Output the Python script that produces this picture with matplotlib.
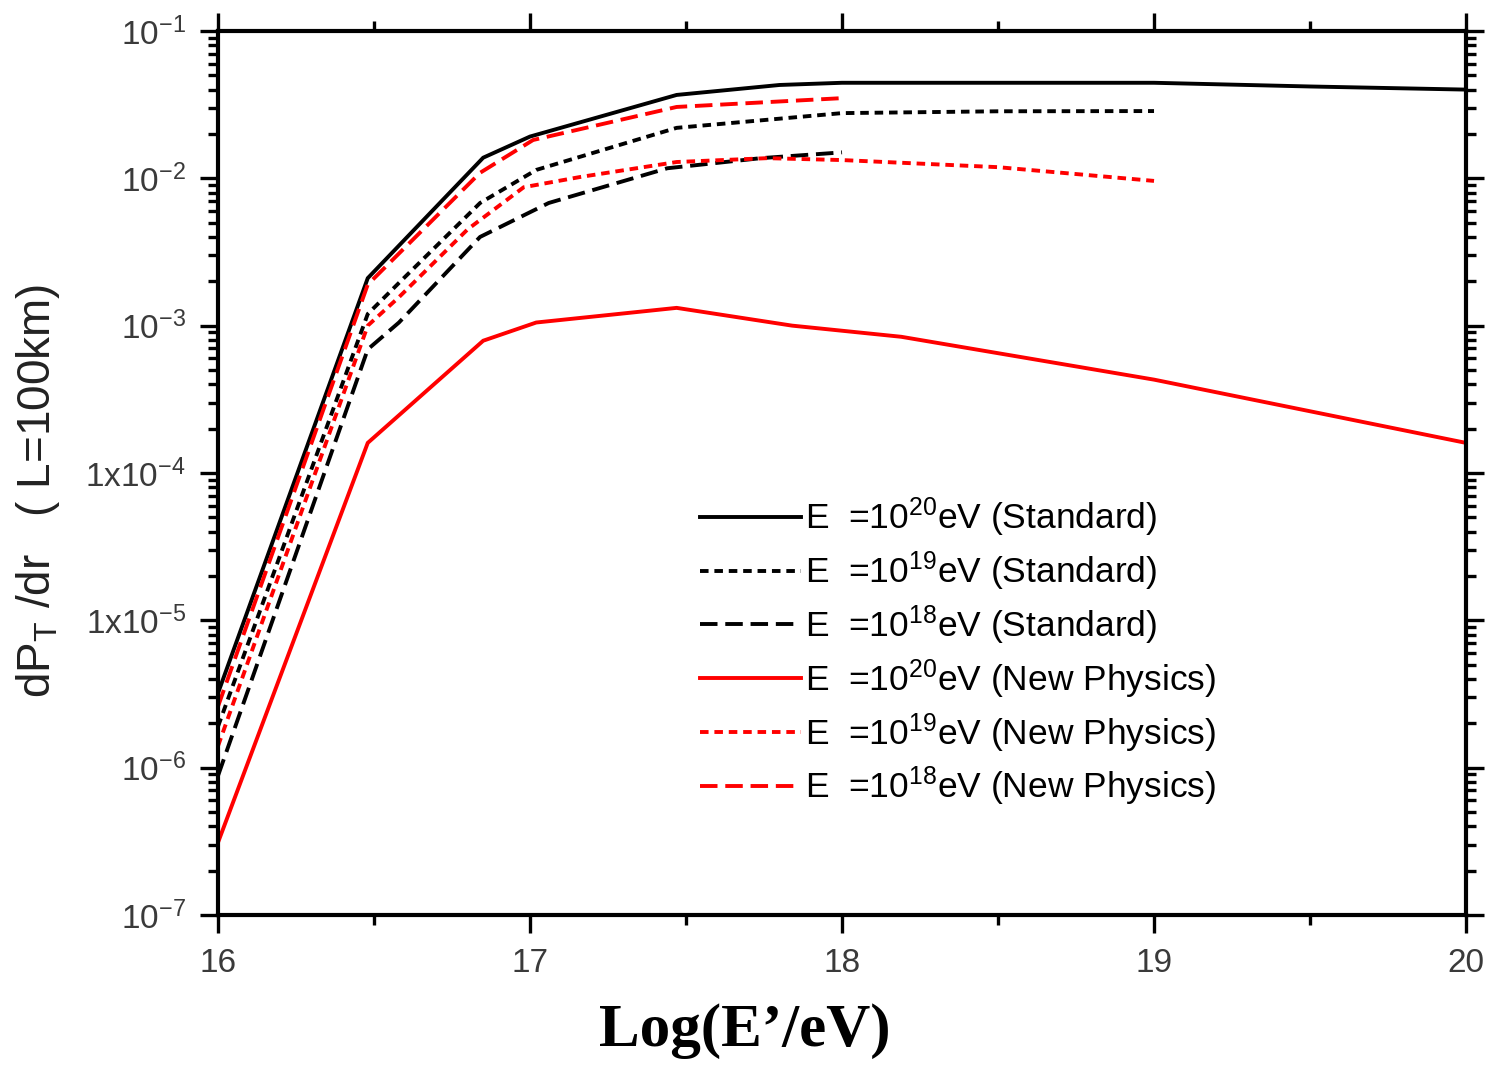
import numpy as np
import matplotlib
matplotlib.use("Agg")
import matplotlib.pyplot as plt
from matplotlib.ticker import FixedLocator, LogLocator, NullFormatter, MultipleLocator

plt.rcParams["font.family"] = ["Liberation Sans", "DejaVu Sans"]
plt.rcParams["mathtext.default"] = "regular"
plt.rcParams["axes.unicode_minus"] = False

# ── data (x = log10(E'/eV), y = dP_T/dr) ─────────────────────────────────────
x_20_std = [16.0, 16.48, 16.85, 17.0, 17.47, 17.8, 18.0, 19.0, 19.5, 20.0]
y_20_std = [3.2e-6, 2.1e-3, 1.38e-2, 1.92e-2, 3.68e-2, 4.3e-2, 4.45e-2, 4.45e-2, 4.2e-2, 4.0e-2]

x_19_std = [16.0, 16.48, 16.58, 16.84, 17.02, 17.47, 18.0, 18.5, 19.0]
y_19_std = [1.9e-6, 1.2e-3, 1.95e-3, 6.8e-3, 1.14e-2, 2.2e-2, 2.77e-2, 2.85e-2, 2.86e-2]

x_18_std = [16.0, 16.48, 16.58, 16.84, 17.06, 17.44, 17.74, 18.0]
y_18_std = [8.8e-7, 6.9e-4, 1.05e-3, 4.0e-3, 6.8e-3, 1.17e-2, 1.37e-2, 1.5e-2]

x_20_np = [16.0, 16.48, 16.85, 17.02, 17.25, 17.47, 17.84, 18.19, 19.0, 20.0]
y_20_np = [3.1e-7, 1.6e-4, 7.9e-4, 1.05e-3, 1.18e-3, 1.32e-3, 1.0e-3, 8.4e-4, 4.3e-4, 1.6e-4]

x_19_np = [16.0, 16.48, 16.58, 16.8, 16.98, 17.16, 17.47, 17.76, 18.0, 18.5, 19.0]
y_19_np = [1.4e-6, 1.0e-3, 1.56e-3, 4.5e-3, 8.7e-3, 1.02e-2, 1.29e-2, 1.37e-2, 1.33e-2, 1.19e-2, 9.6e-3]

x_18_np = [16.0, 16.48, 16.84, 17.01, 17.47, 18.0]
y_18_np = [2.6e-6, 1.9e-3, 1.09e-2, 1.82e-2, 3.05e-2, 3.5e-2]

labels = [
    "E  =10$^{20}$eV (Standard)",
    "E  =10$^{19}$eV (Standard)",
    "E  =10$^{18}$eV (Standard)",
    "E  =10$^{20}$eV (New Physics)",
    "E  =10$^{19}$eV (New Physics)",
    "E  =10$^{18}$eV (New Physics)",
]

ytick_vals = [1e-7, 1e-6, 1e-5, 1e-4, 1e-3, 1e-2, 1e-1]
ytick_labels = ["10$^{-7}$", "10$^{-6}$", "1x10$^{-5}$", "1x10$^{-4}$",
                "10$^{-3}$", "10$^{-2}$", "10$^{-1}$"]

DOT = (2.2, 1.5)
DASH = (4.5, 2.0)

fig = plt.figure(figsize=(14.92, 10.68), dpi=100)
ax = fig.add_axes([0.1461, 0.1433, 0.8365, 0.8277])

series = [
    (x_20_std, y_20_std, "black", None),
    (x_19_std, y_19_std, "black", DOT),
    (x_18_std, y_18_std, "black", DASH),
    (x_20_np, y_20_np, "#ff0000", None),
    (x_19_np, y_19_np, "#ff0000", DOT),
    (x_18_np, y_18_np, "#ff0000", DASH),
]
for (xs, ys, c, dashes), lab in zip(series, labels):
    line, = ax.plot(xs, ys, color=c, lw=2.8, label=lab, solid_joinstyle="miter")
    if dashes is not None:
        line.set_dashes(dashes)

ax.set_yscale("log")
ax.set_xlim(16, 20)
ax.set_ylim(1e-7, 1e-1)

ax.xaxis.set_major_locator(MultipleLocator(1))
ax.xaxis.set_minor_locator(MultipleLocator(0.5))
ax.yaxis.set_major_locator(FixedLocator(ytick_vals))
ax.set_yticklabels(ytick_labels)
ax.yaxis.set_minor_locator(LogLocator(base=10, subs=np.arange(2, 10), numticks=20))
ax.yaxis.set_minor_formatter(NullFormatter())

ax.tick_params(which="both", direction="out", top=True, right=True, width=2.4, colors="black")
ax.tick_params(which="major", length=13)
ax.tick_params(which="minor", length=7)
ax.tick_params(axis="x", which="major", pad=11, labelsize=24, labelcolor="#3a3a3a")
ax.tick_params(axis="y", which="major", pad=10, labelsize=24, labelcolor="#3a3a3a")
for sp in ax.spines.values():
    sp.set_linewidth(3)

ax.set_xlabel("Log(E\u2019/eV)", fontsize=44, fontweight="bold",
              family=["Liberation Serif", "DejaVu Serif"])
ax.xaxis.set_label_coords(0.422, -0.100)
ax.set_ylabel("dP$_T$ /dr   ( L=100km)", fontsize=33, color="#222222")
ax.yaxis.set_label_coords(-0.125, 0.48)

ax.legend(loc="upper left", bbox_to_anchor=(0.386, 0.474), frameon=False,
          fontsize=25.5, handlelength=2.85, handletextpad=0.12, labelspacing=0.29,
          borderpad=0, borderaxespad=0)

fig.savefig("out.png", dpi=100)
